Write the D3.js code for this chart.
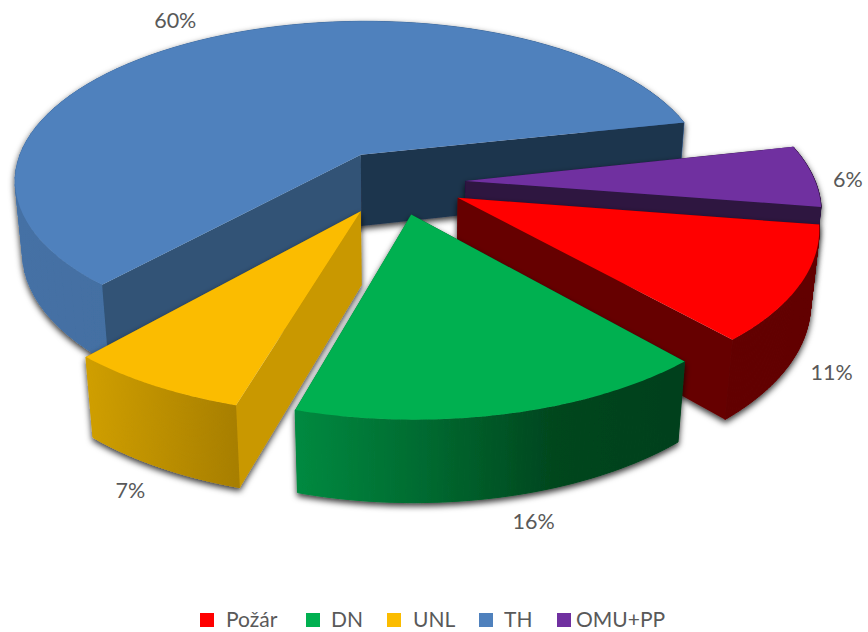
<!DOCTYPE html>
<html>
<head>
<meta charset="utf-8">
<script src="https://cdn.jsdelivr.net/npm/d3@7"></script>
<style>
  html, body { margin: 0; background: #fff; }
  text { font-family: Lato, "Open Sans", sans-serif; fill: #595959; }
</style>
</head>
<body>
<div id="chart"></div>
<script>
const WIDTH = 868;
const HEIGHT = 632;

// data, clockwise from the first slice
const categories = ["Požár", "DN", "UNL", "TH", "OMU+PP"];
const shares = [11, 16, 7, 60, 6];

// styling, same order as categories
const topColors = ["#ff0000", "#00b050", "#fbbc00", "#4f81bd", "#7030a0"];
const outerWallStops = [
  ["#620000", "#620000"],
  ["#028a40", "#006a30", "#00461e", "#00401c"],
  ["#d09f00", "#a87f00"],
  ["#4571a5", "#3b6494"],
  ["#2d1340", "#2d1340"]
];
const startWallColors = ["#660000", "#00401c", "#c99800", "#305376", "#2d1340"];
const endWallColors = ["#660000", "#00692f", "#a87f00", "#1f344e", "#2d1340"];
const paintOrder = ["TH", "OMU+PP", "Požár", "UNL", "DN"];

// layout
const legendSwatchX = [200, 306, 387, 479, 557];
const legendTextX = [226, 331, 413, 504, 576];
const labelReach = [1.12, 1.08, 1.1, 1.13, 1.13];
const labelShiftX = [-13, 17, 1, -19, -10];
const labelShiftY = [76, 89, 84, -4, 4];
const FIRST_ANGLE = 99 * Math.PI / 180;
const EXPLODE = 0.2;
const cx = 395.5, cy = 182, rx = 350, ry = 162;
const tilt = 0.155, sink = 0.02, depth = 74;

// ground position (u right, v towards the viewer), z is 0 on top and 1 at the bottom
function project(u, v, z) {
  const w = 1 - tilt * v + sink * z;
  return [cx + rx * u / w, cy + (ry * v + depth * z) / w];
}

const pie = d3.pie().sort(null).startAngle(FIRST_ANGLE).endAngle(FIRST_ANGLE + 2 * Math.PI);
const arcs = pie(shares);
const line = d3.line();
const colorOf = d3.scaleOrdinal(categories, topColors);

const svg = d3.select("#chart").append("svg")
    .attr("width", WIDTH)
    .attr("height", HEIGHT)
    .style("display", "block");
const defs = svg.append("defs");

const shadow = defs.append("filter")
    .attr("id", "shadow")
    .attr("x", "-10%").attr("y", "-10%")
    .attr("width", "120%").attr("height", "125%");
shadow.append("feDropShadow")
    .attr("dx", 0)
    .attr("dy", 3)
    .attr("stdDeviation", 3)
    .attr("flood-color", "#000")
    .attr("flood-opacity", 0.8);

function sliceGeometry(d) {
  const mid = (d.startAngle + d.endAngle) / 2;
  const ox = EXPLODE * Math.sin(mid), oy = -EXPLODE * Math.cos(mid);
  const at = (a, r, z) => project(ox + r * Math.sin(a), oy - r * Math.cos(a), z);
  const steps = d3.range(0, 81).map(i => d.startAngle + (d.endAngle - d.startAngle) * i / 80);
  return {mid, at, steps};
}

paintOrder.forEach(name => {
  const i = categories.indexOf(name);
  const {mid, at, steps} = sliceGeometry(arcs[i]);
  const g = svg.append("g").attr("class", "slice");
  const walls = g.append("g").attr("filter", "url(#shadow)");

  const topEdge = steps.map(a => at(a, 1, 0));
  const bottomEdge = steps.map(a => at(a, 1, 1));

  const xExtent = d3.extent(topEdge, p => p[0]);
  const grad = defs.append("linearGradient")
      .attr("id", "wall" + i)
      .attr("gradientUnits", "userSpaceOnUse")
      .attr("x1", xExtent[0]).attr("x2", xExtent[1])
      .attr("y1", 0).attr("y2", 0);
  outerWallStops[i].forEach((c, k, all) => {
    grad.append("stop").attr("offset", k / (all.length - 1)).attr("stop-color", c);
  });

  // a cut face shows only when the top of the slice lies above its edge
  const cut = a => line([at(a, 0, 0), at(a, 1, 0), at(a, 1, 1), at(a, 0, 1)]) + "Z";
  const cutShows = a => {
    const p0 = at(a, 0, 0), p1 = at(a, 1, 0), m = at(mid, 0.5, 0);
    return m[1] < p0[1] + (m[0] - p0[0]) * (p1[1] - p0[1]) / (p1[0] - p0[0]);
  };
  const cuts = [
    {a: arcs[i].startAngle, fill: startWallColors[i]},
    {a: arcs[i].endAngle, fill: endWallColors[i]}
  ];
  const drawCut = c => walls.append("path").attr("d", cut(c.a)).attr("fill", c.fill);

  cuts.filter(c => !cutShows(c.a)).forEach(drawCut);

  // outer wall, one narrow strip per step so the fold at the silhouette stays filled
  walls.append("g").selectAll("path")
      .data(d3.range(steps.length - 1))
    .enter().append("path")
      .attr("d", k => line([topEdge[k], topEdge[k + 1], bottomEdge[k + 1], bottomEdge[k]]) + "Z")
      .attr("fill", "url(#wall" + i + ")")
      .attr("stroke", "url(#wall" + i + ")")
      .attr("stroke-width", 1);

  cuts.filter(c => cutShows(c.a)).forEach(drawCut);

  g.append("path")
      .attr("d", line([at(0, 0, 0)].concat(topEdge)) + "Z")
      .attr("fill", colorOf(name));
});

// value labels
svg.append("g").selectAll("text")
    .data(arcs)
  .enter().append("text")
    .attr("transform", (d, i) => {
      const {mid, at} = sliceGeometry(d);
      const p = at(mid, labelReach[i], 0);
      return "translate(" + (p[0] + labelShiftX[i]) + "," + (p[1] + labelShiftY[i]) + ")";
    })
    .attr("text-anchor", "middle")
    .attr("dy", "0.35em")
    .style("font-size", "21.5px")
    .text(d => d.value + "%");

// legend
const legend = svg.append("g").selectAll("g")
    .data(categories)
  .enter().append("g");
legend.append("rect")
    .attr("x", (d, i) => legendSwatchX[i])
    .attr("y", 613)
    .attr("width", 14)
    .attr("height", 14)
    .attr("fill", d => colorOf(d));
legend.append("text")
    .attr("x", (d, i) => legendTextX[i])
    .attr("y", 627)
    .style("font-size", "21px")
    .text(d => d);
</script>
</body>
</html>
